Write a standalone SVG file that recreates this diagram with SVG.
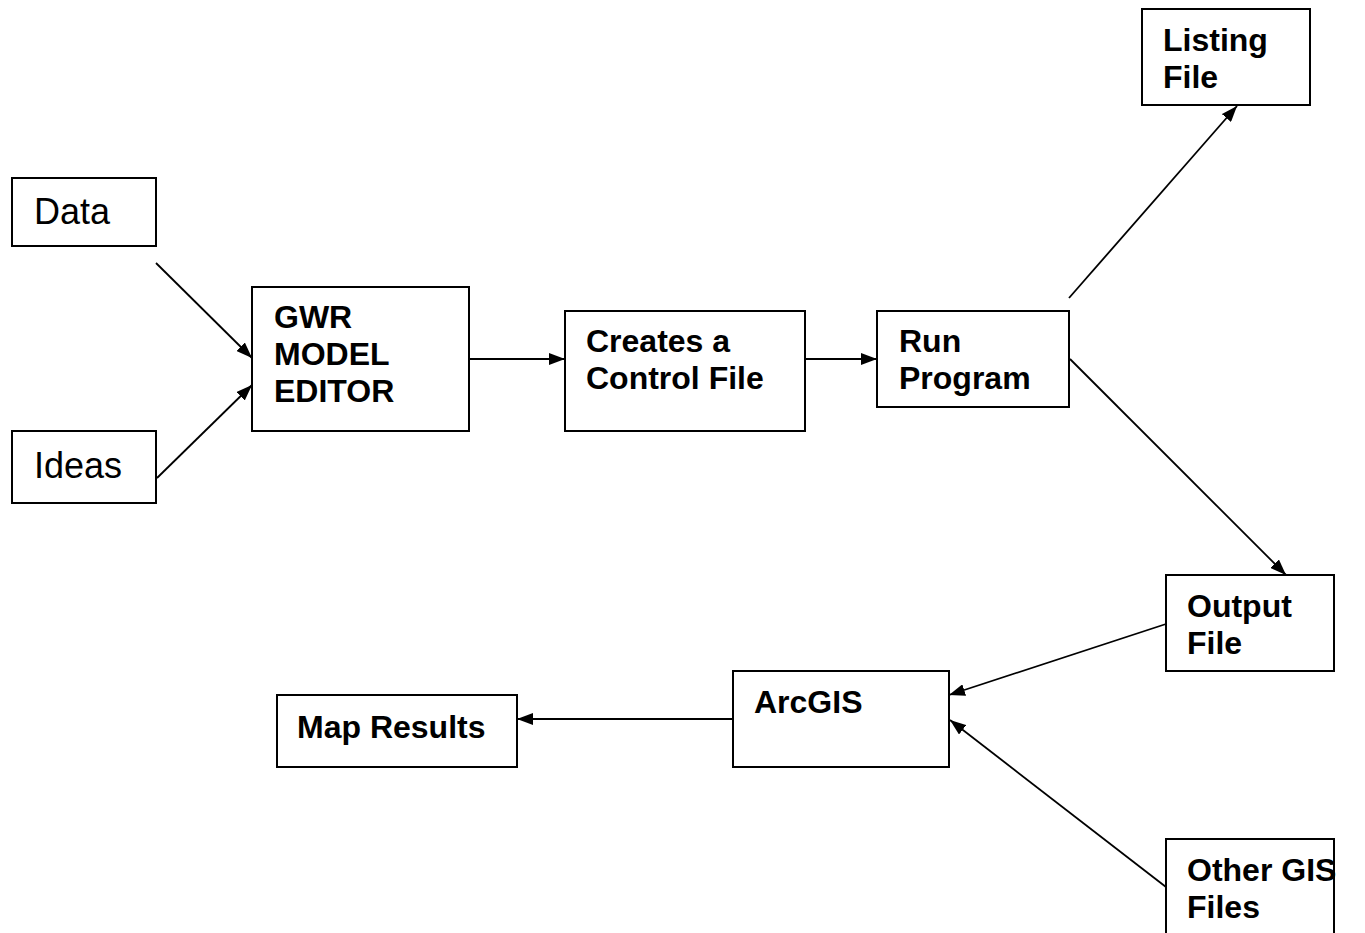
<svg xmlns="http://www.w3.org/2000/svg" width="1365" height="933" viewBox="0 0 1365 933">
<defs>
<marker id="ah" viewBox="0 0 16 12" refX="16" refY="6" markerWidth="16" markerHeight="12" markerUnits="userSpaceOnUse" orient="auto">
<path d="M0,0 L16,6 L0,12 z" fill="#000"/>
</marker>
<style>
.box{fill:#fff;stroke:#000;stroke-width:2}
.b{font-family:"Liberation Sans",Arial,sans-serif;font-weight:bold;font-size:32px;fill:#000}
.p{font-family:"Liberation Sans",Arial,sans-serif;font-size:36px;fill:#000}
.c{stroke:#000;stroke-width:1.8;fill:none;marker-end:url(#ah)}
</style>
</defs>
<rect width="1365" height="933" fill="#fff"/>
<g id="connectors">
<line class="c" x1="156" y1="263" x2="252" y2="358"/>
<line class="c" x1="157" y1="478" x2="252" y2="385"/>
<line class="c" x1="469" y1="359" x2="565" y2="359"/>
<line class="c" x1="805" y1="359" x2="877" y2="359"/>
<line class="c" x1="1069" y1="298" x2="1237" y2="106"/>
<line class="c" x1="1070" y1="359" x2="1286" y2="575"/>
<line class="c" x1="1166" y1="624" x2="949" y2="695"/>
<line class="c" x1="733" y1="719" x2="517" y2="719"/>
<line class="c" x1="1166" y1="887" x2="950" y2="720"/>
</g>
<g id="data"><rect class="box" x="12" y="178" width="144" height="68"/><text class="p" x="34" y="224">Data</text></g>
<g id="ideas"><rect class="box" x="12" y="431" width="144" height="72"/><text class="p" x="34" y="478">Ideas</text></g>
<g id="gwr"><rect class="box" x="252" y="287" width="217" height="144"/><text class="b" x="274" y="328">GWR</text><text class="b" x="274" y="365">MODEL</text><text class="b" x="274" y="402">EDITOR</text></g>
<g id="creates"><rect class="box" x="565" y="311" width="240" height="120"/><text class="b" x="586" y="352">Creates a</text><text class="b" x="586" y="389">Control File</text></g>
<g id="run"><rect class="box" x="877" y="311" width="192" height="96"/><text class="b" x="899" y="352">Run</text><text class="b" x="899" y="389">Program</text></g>
<g id="listing"><rect class="box" x="1142" y="9" width="168" height="96"/><text class="b" x="1163" y="51">Listing</text><text class="b" x="1163" y="88">File</text></g>
<g id="output"><rect class="box" x="1166" y="575" width="168" height="96"/><text class="b" x="1187" y="617">Output</text><text class="b" x="1187" y="654">File</text></g>
<g id="arcgis"><rect class="box" x="733" y="671" width="216" height="96"/><text class="b" x="754" y="713">ArcGIS</text></g>
<g id="map"><rect class="box" x="277" y="695" width="240" height="72"/><text class="b" x="297" y="738">Map Results</text></g>
<g id="other"><rect class="box" x="1166" y="839" width="168" height="110"/><text class="b" x="1187" y="881">Other GIS</text><text class="b" x="1187" y="918">Files</text></g>
</svg>
